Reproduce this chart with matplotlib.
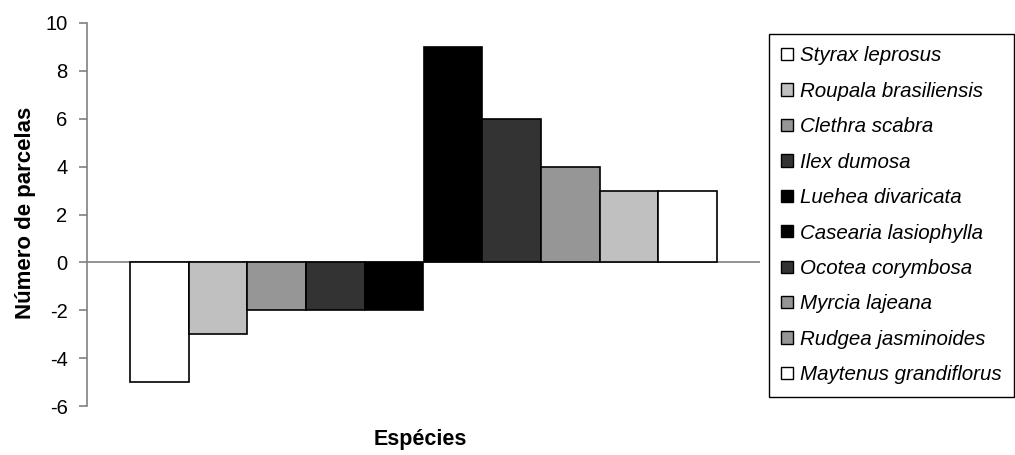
import matplotlib
matplotlib.use("Agg")
import matplotlib.pyplot as plt
from matplotlib.patches import Patch

species = ["Styrax leprosus", "Roupala brasiliensis", "Clethra scabra", "Ilex dumosa",
           "Luehea divaricata", "Casearia lasiophylla", "Ocotea corymbosa",
           "Myrcia lajeana", "Rudgea jasminoides", "Maytenus grandiflorus"]
values = [-5, -3, -2, -2, -2, 9, 6, 4, 3, 3]
bar_colors = ["#ffffff", "#c0c0c0", "#969696", "#333333", "#000000",
              "#000000", "#333333", "#969696", "#c0c0c0", "#ffffff"]
legend_colors = ["#ffffff", "#c0c0c0", "#969696", "#333333", "#000000",
                 "#000000", "#333333", "#969696", "#969696", "#ffffff"]
yticks = [-6, -4, -2, 0, 2, 4, 6, 8, 10]

plt.rcParams['font.family'] = ['Liberation Sans', 'DejaVu Sans']

fig = plt.figure(figsize=(10.15, 4.55), dpi=100)
x0, x1 = 87, 760
ax = fig.add_axes([x0/1015, 1 - 406/455, (x1 - x0)/1015, (406 - 23)/455])

xs = list(range(len(values)))
ax.bar(xs, values, width=1.0, color=bar_colors, edgecolor="black", linewidth=1.2, zorder=3)
ax.axhline(0, color="#808080", linewidth=1.2, zorder=2)

bw = (717 - 130) / 10
ax.set_xlim(-0.5 - (130 - x0)/bw, 9.5 + (x1 - 717)/bw)
ax.set_ylim(-6, 10)
ax.set_yticks(yticks)
ax.set_yticklabels([str(t) for t in yticks], fontsize=14.5)
ax.set_xticks([])
for s in ["top", "right", "bottom"]:
    ax.spines[s].set_visible(False)
ax.spines["left"].set_color("#808080")
ax.spines["left"].set_linewidth(1.2)
ax.tick_params(axis="y", direction="out", length=6, color="#808080", width=1.2, pad=8)

fig.text(26/1015, 1 - 213/455, "Número de parcelas", fontsize=16, fontweight="bold",
         rotation=90, ha="center", va="center")
fig.text(420/1015, 1 - 440/455, "Espécies", fontsize=15.5, fontweight="bold",
         ha="center", va="center")

handles = [Patch(facecolor=c, edgecolor="black", linewidth=1.0) for c in legend_colors]
leg = fig.legend(handles, species, loc="upper left", bbox_to_anchor=(769/1015, 1 - 34/455),
                 frameon=True, fancybox=False, edgecolor="black", framealpha=1,
                 prop={"size": 14.8, "style": "italic"}, handlelength=0.55, handleheight=0.55,
                 handletextpad=0.35, labelspacing=0.8, borderpad=0.6, borderaxespad=0)
leg.get_frame().set_linewidth(1.0)

fig.savefig("out.png", dpi=100)
